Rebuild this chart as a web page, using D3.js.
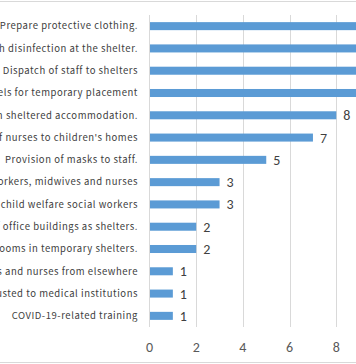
<!DOCTYPE html>
<html><head><meta charset="utf-8">
<script src="https://cdn.jsdelivr.net/npm/d3@7"></script>
<style>html,body{margin:0;padding:0;background:#fff;overflow:hidden}</style>
</head><body>
<svg id="c" width="356" height="364"></svg>
<script>
const categories = [
  "Prepare protective clothing.",
  "Thorough disinfection at the shelter.",
  "Dispatch of staff to shelters",
  "Securing hotels for temporary placement",
  "Infection prevention in sheltered accommodation.",
  "Dispatch of nurses to children's homes",
  "Provision of masks to staff.",
  "Dispatch of public health workers, midwives and nurses",
  "Dispatch of child welfare social workers",
  "Use of office buildings as shelters.",
  "Securing of rooms in temporary shelters.",
  "Dispatch of doctors and nurses from elsewhere",
  "Care entrusted to medical institutions",
  "COVID-19-related training"
];
const values = [12, 11, 10, 9, 8, 7, 5, 3, 3, 2, 2, 1, 1, 1];
const tickValues = [0, 2, 4, 6, 8, 10, 12, 14];

const svg = d3.select("#c");
const x = d3.scaleLinear().domain([0, 2]).range([149.5, 196.2]);
const y = d3.scaleBand().domain(categories).range([15, 327]).paddingInner(0.64).paddingOuter(0.32);

// border lines
svg.append("line").attr("x1",0).attr("x2",356).attr("y1",1.5).attr("y2",1.5).attr("stroke","#d9d9d9");
svg.append("line").attr("x1",0).attr("x2",356).attr("y1",362.5).attr("y2",362.5).attr("stroke","#d9d9d9");

// gridlines
svg.append("g").selectAll("line").data(tickValues.slice(1)).join("line")
  .attr("x1", d => Math.round(x(d)) + 0.5).attr("x2", d => Math.round(x(d)) + 0.5)
  .attr("y1", 15).attr("y2", 327).attr("stroke", "#d9d9d9").attr("stroke-width", 1);

// bars
svg.append("g").selectAll("rect").data(values).join("rect")
  .attr("x", x(0)).attr("y", (d,i) => y(categories[i]))
  .attr("width", d => x(d) - x(0)).attr("height", y.bandwidth())
  .attr("fill", "#5b9bd5");

// axis line
svg.append("line").attr("x1", 149.5).attr("x2", 149.5).attr("y1", 15).attr("y2", 327).attr("stroke", "#d9d9d9");

// category labels
svg.append("g").selectAll("text").data(categories).join("text")
  .attr("x", 138).attr("y", d => y(d) + y.bandwidth()/2)
  .attr("dy", "0.35em").attr("text-anchor", "end")
  .attr("font-family", "'Noto Sans CJK JP', sans-serif").attr("font-size", 9.5)
  .attr("letter-spacing", 0.55)
  .attr("fill", "#404040").text(d => d);

// value labels
svg.append("g").selectAll("text").data(values).join("text")
  .attr("x", d => x(d) + 7).attr("y", (d,i) => y(categories[i]) + y.bandwidth()/2)
  .attr("dy", "0.36em")
  .attr("font-family", "Carlito, 'Liberation Sans', sans-serif").attr("font-size", 14)
  .attr("fill", "#404040").text(d => d);

// x tick labels
svg.append("g").selectAll("text").data(tickValues).join("text")
  .attr("x", d => x(d)).attr("y", 347).attr("dy", "0.36em").attr("text-anchor", "middle")
  .attr("font-family", "Carlito, 'Liberation Sans', sans-serif").attr("font-size", 14)
  .attr("fill", "#595959").text(d => d);
</script>
</body></html>
